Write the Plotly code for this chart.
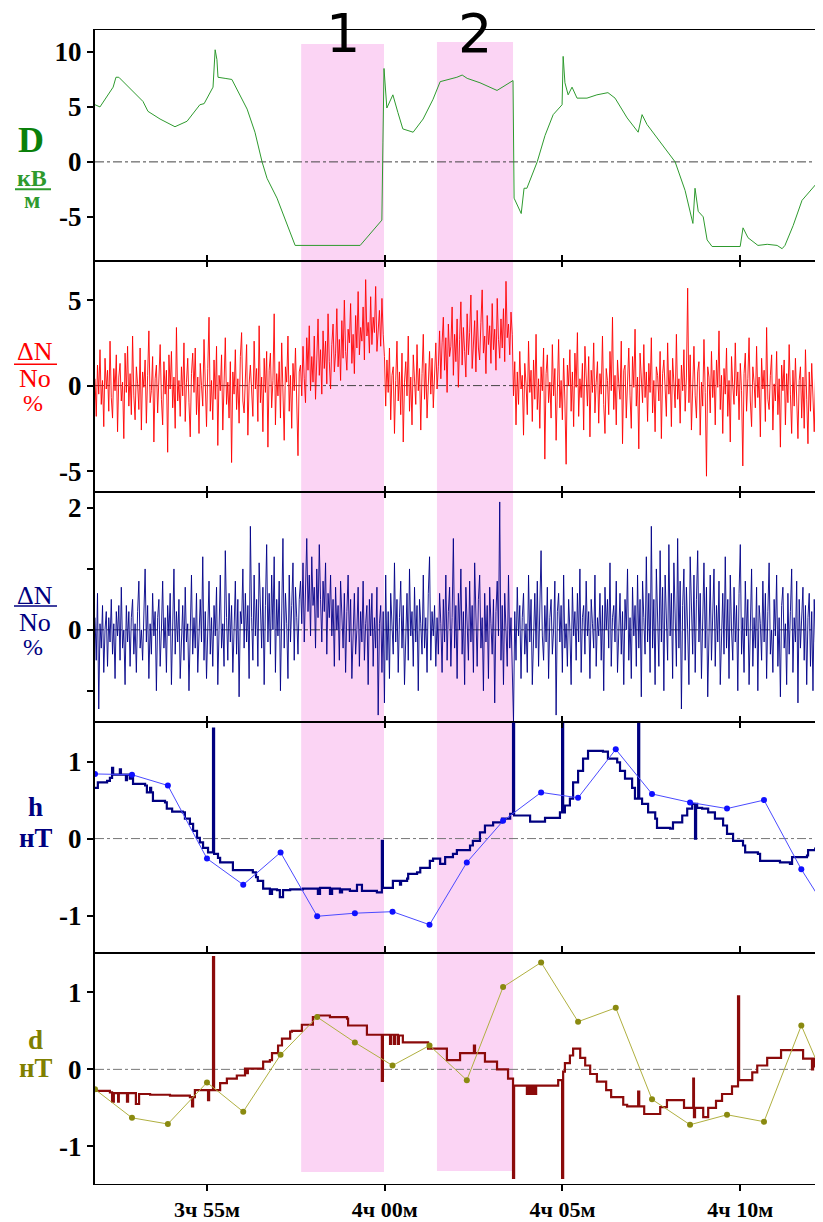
import numpy as np
import plotly.graph_objects as go
from plotly.subplots import make_subplots

# ---------------- DATA (time in minutes after 3h50m) ----------------
T_START, T_END = 1.85, 22.33
x_tickvals = [5, 10, 15, 20]
x_ticktext = ["3ч 55м", "4ч 00м", "4ч 05м", "4ч 10м"]

# D, kV/m
t_D = [1.85, 1.99, 2.36, 2.44, 2.52, 3.20, 3.34, 3.68, 4.10, 4.44,
       4.80, 4.92, 5.17, 5.23, 5.28, 5.31, 5.51, 5.70, 6.13, 6.35,
       6.55, 6.69, 6.97, 7.48, 9.31, 9.92, 9.95, 9.98, 10.06, 10.23,
       10.37, 10.51, 10.80, 11.08, 11.36, 11.56, 12.03, 12.18, 12.32, 12.68,
       13.16, 13.61, 13.64, 13.72, 13.84, 13.92, 14.00, 14.29, 14.51, 14.74,
       14.99, 15.02, 15.07, 15.16, 15.27, 15.41, 15.69, 15.97, 16.28, 16.48,
       16.82, 17.13, 17.24, 17.38, 17.75, 18.17, 18.45, 18.67, 18.73, 18.82,
       18.96, 19.07, 19.21, 20.00, 20.08, 20.22, 20.50, 20.76, 21.04, 21.18,
       21.26, 21.49, 21.74, 22.02, 22.30]
D_vals = [5.2, 5.0, 6.8, 7.7, 7.7, 5.5, 4.6, 3.9, 3.2, 3.7,
          5.2, 5.3, 6.8, 10.2, 9.3, 7.7, 7.6, 7.5, 4.8, 2.7,
          0.0, -1.5, -3.3, -7.6, -7.6, -5.3, 1.8, 8.5, 4.9, 6.1,
          4.5, 3.0, 2.7, 3.9, 5.7, 7.3, 7.7, 7.9, 7.6, 7.2,
          6.5, 7.4, -3.3, -3.8, -4.7, -2.4, -2.4, 0.0, 2.4, 4.3,
          5.2, 9.6, 7.2, 6.1, 6.8, 5.8, 5.8, 6.1, 6.3, 5.8,
          4.0, 2.7, 4.3, 3.4, 1.8, 0.0, -2.6, -5.6, -2.4, -4.5,
          -5.0, -7.1, -7.7, -7.7, -6.0, -6.9, -7.6, -7.5, -7.6, -7.9,
          -7.6, -5.8, -3.5, -2.4, -1.4]

# dN/No (%), red, evenly sampled
dn_red = [
    0.4, -1.8, 1.2, -0.5, 2.1, -1.1, 0.3, -2.4, 1.6, -0.2,
    0.9, -1.5, 2.6, -0.7, -1.9, 1.0, -0.3, 1.8, -2.7, 0.5,
    1.3, -0.9, 0.2, -3.1, 1.9, -0.4, 2.3, -1.2, 0.7, -1.7,
    2.9, -0.6, -2.0, 1.1, 0.1, -1.4, 2.2, -2.6, 0.8, -0.1,
    1.5, -2.2, 0.6, 3.2, -1.0, -0.3, 1.7, -3.3, 0.4, 1.2,
    -1.6, 0.0, 2.4, -0.8, -2.3, 1.4, -0.5, 0.9, -3.9, 1.8,
    -0.2, 2.0, -1.3, 0.5, -2.5, 3.4, -0.9, 0.3, -1.8, 1.1,
    -0.6, 2.5, -2.1, 0.2, 1.6, -1.0, -3.0, 0.7, 1.9, -0.4,
    2.2, -1.7, 0.5, -2.8, 1.3, 0.0, -1.2, 2.7, -0.7, -2.4,
    1.0, 4.0, -1.5, 0.3, -2.0, 1.5, -0.8, 2.3, -3.5, 0.6,
    -0.3, 1.8, -2.6, 0.9, 2.8, -1.1, 0.2, -1.9, 1.4, -4.5,
    0.8, -0.5, 2.1, -1.4, 0.4, -2.2, 1.7, 3.1, -0.9, -1.6,
    0.6, 2.4, -2.9, 0.1, 1.2, -0.7, -1.8, 2.6, -0.2, 1.0,
    -2.1, 3.5, -1.0, 0.5, -2.7, 1.6, -0.4, 2.0, -3.6, 0.9,
    1.9, -1.3, 0.3, 4.2, -2.3, 0.7, -0.6, 1.4, -1.9, 2.5,
    -0.8, -3.2, 1.1, 0.2, 2.9, -1.5, 0.6, -2.5, 1.3, -0.3,
    2.2, -1.0, -4.1, 0.8,
    # interval 1
    1.2, -0.6, 2.3, 0.4, -1.0, 2.8, 0.9, 3.5, -0.3, 1.7,
    0.2, 2.9, -0.8, 1.5, 3.9, 0.6, 2.1, -0.5, 3.2, 1.0,
    2.6, 0.1, 4.2, 1.4, -0.2, 2.4, 3.6, 0.8, 1.9, 4.5,
    1.1, 2.7, 0.3, 3.8, 1.6, 5.0, 2.0, 0.9, 3.3, 2.5,
    4.8, 1.3, 3.0, 0.7, 4.1, 2.2, 5.5, 1.8, 3.4, 2.6,
    4.6, 1.5, 6.2, 2.9, 3.7, 1.9, 5.2, 2.4, 4.0, 3.1,
    5.8, 2.0, 3.5, 4.4, 2.3, 5.1, 3.0, 1.7,
    # between intervals
    -1.2, 1.5, -0.4, 2.2, -2.0, 0.6, 1.1, -2.8, 0.3, 2.6,
    -0.9, 0.8, -1.7, 1.9, -3.3, 0.2, 1.4, -0.6, 2.9, -1.5,
    0.5, -2.3, 1.8, 0.0, -1.1, 2.4, -0.3, 1.0, -2.6, 0.7,
    3.0, -0.8, 1.3, -1.9, 0.4, 2.0, -0.5, 1.6, -1.3, 0.9,
    2.5, -0.2,
    # interval 2
    1.1, 3.2, 0.4, 2.5, 4.0, 0.9, 2.8, -0.4, 3.6, 1.7,
    2.3, 4.6, 0.6, 3.0, 1.4, 3.9, -0.1, 2.7, 4.9, 1.2,
    3.4, 2.0, 0.5, 4.2, 1.8, 3.1, 5.3, 1.0, 2.6, 3.8,
    0.8, 4.4, 2.2, 1.5, 3.7, 5.6, 1.9, 2.9, 0.7, 4.1,
    2.4, 3.5, 1.3, 4.8, 2.1, 3.3, 0.9, 5.1, 2.7, 1.6,
    3.9, 2.2, 4.5, 1.4, 6.1, 2.8, 3.6, 1.8, 4.3, 3.0,
    # after
    -0.6, 1.4, -2.3, 0.8, -1.1, 2.0, -0.2, 0.6, -2.9, 1.3,
    0.1, -1.7, 2.6, -0.4, 0.9, -2.1, 1.5, -0.8, 3.0, -1.4,
    0.4, -2.5, 1.1, -0.3, 2.2, -4.3, 0.7, 1.8, -1.0, 0.2,
    -1.9, 2.4, -0.6, 1.0, -3.2, 0.5, 2.7, -1.3, 0.3, -2.0,
    1.6, -0.9, -4.6, 1.2, 0.0, 2.1, -1.5, 0.8, -2.4, 1.9,
    -0.1, 3.1, -1.8, 0.4, -0.7, 1.3, -2.6, 2.3, 0.6, -1.2,
    1.7, -3.0, 0.9, -0.4, 2.5, -1.6, 0.2, 1.4, -2.2, 0.7,
    -0.5, 2.9, -1.1, -2.8, 1.0, 0.3, -1.7, 2.0, -0.3, 4.0,
    -1.4, 0.6, -2.3, 1.5, 0.1, -0.8, 2.6, -3.4, 0.9, 1.2,
    -1.9, 0.4, 2.2, -0.6, -2.5, 1.7, -0.1, 3.3, -1.2, 0.5,
    -3.7, 1.9, 0.2, -1.0, 2.4, -0.7, 0.8, -2.1, 1.3, -0.4,
    2.8, -1.6, 0.3, -2.7, 1.1, 0.6, -0.9, 2.0, -3.1, 0.7,
    1.5, -0.2, -1.8, 2.5, -0.5, 0.9, -2.4, 1.6, 0.1, -1.3,
    3.0, -0.8, 0.4, -2.2, 1.2, -0.3, 2.1, -1.5, 0.5, 5.7,
    -1.0, 1.8, -2.6, 0.3, 2.3, -0.6, -1.9, 0.8, 1.4, -2.9,
    0.2, -1.2, 2.7, -0.4, -5.3, 1.1, 0.5, -1.6, 2.0, -0.7,
    0.9, -2.3, 1.5, -0.1, 3.2, -1.4, 0.6, -2.8, 1.0, -0.5,
    2.2, -1.8, 0.3, -3.3, 1.7, 0.0, -1.1, 2.5, -0.6, 0.8,
    -2.0, 1.3, -0.3, -4.7, 0.7, 1.9, -1.5, 0.4, 2.8, -0.9,
    -2.4, 1.1, 0.2, -1.3, 2.3, -0.7, 0.5, -3.0, 1.6, -0.2,
    0.9, -2.1, 3.4, -0.8, -1.4, 0.6, 1.8, -2.6, 0.1, -0.9,
    2.0, -1.7, 0.4, -3.6, 1.2, -0.3, 1.5, -2.3, 0.7, -1.0,
    2.4, -0.5, -2.8, 0.9, -1.2, 1.6, -0.4, -3.1, 0.3, 1.1,
    -1.9, 0.5, -2.5, 2.1, -0.8, -3.4, 0.8, -1.5, 1.3, -0.6,
    -2.7, 0.4, -1.1, 1.7, -3.2, 0.2, -0.9, 1.0]

# dN/No (%), navy, evenly sampled
dn_blue = [
    0.2, -0.5, 0.6, -1.3, 0.1, -0.3, 0.4, -0.7, 0.0, 0.3,
    -0.6, 0.2, -0.2, 0.5, -0.4, 0.1, -0.8, 0.3, -0.1, 0.4,
    -0.5, 0.7, -0.3, 0.0, -0.9, 0.4, -0.2, 0.3, -0.6, 0.2,
    0.5, -0.4, 0.1, -0.7, 0.3, 0.8, -0.3, 0.0, -0.5, 0.2,
    1.0, -0.2, 0.4, -0.8, 0.1, -0.4, 0.6, -0.1, 0.3, -1.0,
    0.2, 0.5, -0.6, 0.0, 0.8, -0.3, 0.2, -0.7, 0.4, -0.1,
    0.6, -0.9, 0.1, 1.0, -0.4, 0.3, -0.2, 0.5, -0.8, 0.0,
    0.4, -0.5, 0.7, -0.2, 0.1, -1.0, 0.3, 0.9, -0.4, 0.2,
    -0.3, 0.6, -0.7, 0.0, 0.5, -0.2, 1.2, -0.5, 0.3, -0.8,
    0.1, 0.8, -0.4, 0.2, -0.6, 0.4, -0.1, 0.7, -0.9, 0.3,
    0.9, -0.3, 0.1, -0.6, 1.3, 0.2, -0.5, 0.6, -0.2, 0.4,
    -0.7, 0.0, 0.8, -0.4, 0.5, -1.1, 0.3, 0.1, 1.0, -0.3,
    0.6, -0.2, 0.4, -0.8, 1.7, 0.2, -0.5, 0.9, -0.1, 0.5,
    -0.6, 1.1, 0.3, -0.3, 0.7, -0.9, 0.4, 1.4, -0.2, 0.6,
    -0.4, 0.9, 0.0, 1.2, -0.7, 0.5, -0.1, 0.8, -1.0, 0.3,
    1.5, -0.3, 0.6, 0.1, -0.8, 0.9, -0.2, 0.4, 1.1, -0.5,
    0.7, 0.2, -0.4, 0.5,
    # interval 1
    0.8, 0.1, 1.1, -0.2, 0.6, 1.5, 0.3, 0.9, -0.1, 1.2,
    0.4, 0.7, -0.3, 1.0, 0.2, 1.4, 0.5, -0.2, 0.8, 0.3,
    1.1, -0.4, 0.6, 0.2, 0.9, -0.1, 0.5, -0.6, 0.7, 0.0,
    0.4, -0.5, 0.8, 0.1, -0.3, 0.6, -0.7, 0.3, 0.9, -0.2,
    0.5, -0.8, 0.2, 0.6, -0.4, 0.0, 0.7, -0.6, 0.3, -0.2,
    0.8, -0.5, 0.1, 0.4, -0.9, 0.5, -0.1, 0.6, -0.6, 0.2,
    -0.3, 0.7, -1.4, 0.1, 0.4, -0.7, 0.3, -1.2,
    # between intervals
    0.9, -0.5, 0.3, -0.8, 0.6, 0.0, -0.4, 1.1, -0.2, 0.5,
    -0.7, 0.2, 0.8, -0.3, 0.4, -0.9, 0.1, 0.6, -0.5, 1.0,
    -0.1, 0.3, -0.6, 0.7, -0.2, 0.4, -1.0, 0.5, 0.1, -0.4,
    0.9, -0.3, 0.2, -0.7, 0.6, 1.2, -0.5, 0.3, -0.1, 0.4,
    -0.6, 0.2,
    # interval 2
    -0.4, 0.6, 0.1, -0.7, 0.5, -0.2, 0.9, -0.5, 0.3, 0.7,
    -0.6, 0.2, 1.5, -0.3, 0.4, -0.8, 0.6, 0.0, 1.0, -0.4,
    0.3, -0.9, 0.7, 0.1, -0.5, 0.8, -0.2, 0.4, -0.7, 1.1,
    0.0, -0.6, 0.5, 0.9, -0.3, 0.2, -1.0, 0.6, -0.2, 0.4,
    -0.8, 0.7, 0.1, -0.4, 0.5, -1.2, 0.3, 0.8, -0.1, 2.1,
    -0.5, 0.4, -0.9, 0.6, 0.0, -0.6, 0.9, -0.3, 0.2, -0.7,
    # after
    -1.5, 0.3, -0.5, 0.7, -0.1, 0.4, -0.8, 0.2, 0.6, -0.4,
    0.1, -0.7, 0.9, -0.2, 0.5, -0.9, 0.0, 0.6, -0.3, 0.8,
    -0.6, 0.3, 1.3, -0.1, -0.5, 0.4, -0.2, 0.7, -0.8, 0.2,
    0.5, -0.4, 0.0, 0.8, -1.4, 0.3, 0.6, -0.2, 0.4, -0.7,
    0.9, -0.3, 0.1, -0.6, 0.5, 0.0, -0.9, 0.7, -0.1, 0.3,
    -0.5, 0.6, -0.2, 1.0, -0.7, 0.2, 0.4, -0.4, 0.8, -0.1,
    0.3, -0.8, 0.5, 0.1, -0.3, 0.9, -0.6, 0.2, -0.1, 0.6,
    -0.5, 0.4, -1.0, 0.7, 0.0, 0.5, -0.3, 1.1, -0.6, 0.2,
    0.4, -0.2, 0.8, -0.7, 0.1, 0.6, -0.4, 0.3, -0.9, 0.5,
    0.0, 1.0, -0.5, 0.2, -0.8, 0.7, -0.1, 0.4, -0.6, 0.9,
    -0.3, 0.5, -1.1, 0.8, 0.2, -0.4, 1.2, -0.2, 0.6, -0.7,
    1.7, -0.3, 0.5, -0.9, 1.0, 0.1, -0.6, 1.3, -0.2, 0.7,
    -1.0, 0.9, 0.3, -0.5, 1.4, -0.1, 0.6, -0.8, 1.1, 0.2,
    -0.6, 1.5, -0.3, 0.8, -1.3, 0.4, 1.0, -0.5, 0.7, 0.0,
    -0.9, 1.2, 0.3, -0.4, 0.9, -0.7, 0.5, 1.3, -0.2, 0.6,
    -0.8, 0.4, 1.1, -0.3, 0.7, -1.1, 0.2, 0.9, -0.5, 0.3,
    1.0, -0.6, 0.4, -0.2, 0.8, -0.9, 0.1, 0.6, -0.4, 1.2,
    -0.3, 0.5, -0.8, 0.9, 0.0, -0.5, 0.7, -0.2, 0.4, -1.0,
    0.6, 1.4, -0.4, 0.2, -0.7, 0.8, -0.1, 0.5, -0.9, 0.3,
    1.0, -0.6, 0.2, -0.3, 0.7, -1.0, 0.4, 0.1, -0.5, 0.8,
    -0.2, 0.6, -0.8, 0.3, 1.1, -0.4, 0.0, -0.7, 0.5, -0.1,
    0.9, -0.6, 0.2, -1.1, 0.4, 0.7, -0.3, 0.1, -0.9, 0.6,
    -0.4, 0.3, 1.0, -0.7, 0.2, -0.2, 0.8, -1.2, 0.5, -0.3,
    0.1, 0.7, -0.5, 0.4, -0.9, 0.2, 0.6, -0.6, 0.3, -1.0,
    0.5, -0.2, 0.8, -0.7, 0.1, -0.4, 0.6, -0.5]

# h, nT (step record)
t_h = [1.85, 1.93, 2.19, 2.27, 2.33, 2.36, 2.55, 2.58, 2.72, 2.75,
       2.83, 2.86, 2.92, 3.26, 3.31, 3.40, 3.43, 3.48, 3.82, 3.87,
       4.02, 4.32, 4.38, 4.52, 4.61, 4.72, 4.80, 4.89, 5.03, 5.17,
       5.20, 5.31, 5.37, 5.73, 6.29, 6.38, 6.43, 6.58, 6.77, 6.83,
       6.97, 7.05, 7.14, 7.34, 7.70, 8.12, 8.18, 8.46, 8.52, 8.74,
       8.80, 9.02, 9.22, 9.36, 9.78, 9.92, 9.95, 10.23, 10.43, 10.46,
       10.63, 10.66, 10.91, 11.00, 11.27, 11.36, 11.56, 11.70, 11.92, 12.03,
       12.40, 12.48, 12.68, 12.82, 13.05, 13.30, 13.53, 13.61, 13.64, 14.03,
       14.09, 14.51, 14.88, 14.93, 14.99, 15.02, 15.07, 15.21, 15.30, 15.44,
       15.58, 15.72, 16.14, 16.28, 16.54, 16.62, 16.76, 16.96, 17.04, 17.13,
       17.16, 17.24, 17.41, 17.61, 17.66, 18.03, 18.11, 18.37, 18.51, 18.65,
       18.73, 18.76, 18.79, 18.93, 19.10, 19.29, 19.52, 19.63, 19.80, 20.08,
       20.14, 20.50, 20.56, 21.12, 21.40, 21.46, 21.88, 21.91, 22.11, 22.33]
h_vals = [0.66, 0.73, 0.75, 0.79, 0.92, 0.83, 0.90, 0.83, 0.76, 0.83,
          0.78, 0.83, 0.71, 0.69, 0.60, 0.66, 0.60, 0.49, 0.47, 0.39,
          0.35, 0.34, 0.26, 0.19, 0.10, 0.01, -0.05, -0.12, -0.18, 1.43,
          -0.20, -0.25, -0.31, -0.41, -0.44, -0.50, -0.55, -0.65, -0.72, -0.66,
          -0.67, -0.76, -0.67, -0.66, -0.65, -0.72, -0.64, -0.72, -0.65, -0.70,
          -0.66, -0.68, -0.60, -0.68, -0.70, -0.03, -0.64, -0.55, -0.60, -0.55,
          -0.52, -0.46, -0.44, -0.38, -0.29, -0.26, -0.33, -0.24, -0.20, -0.15,
          -0.09, -0.03, 0.08, 0.17, 0.21, 0.26, 0.32, 1.50, 0.30, 0.30,
          0.22, 0.27, 0.27, 0.34, 1.49, 0.34, 0.43, 0.52, 0.73, 0.88,
          1.04, 1.14, 1.13, 1.04, 0.99, 0.88, 0.78, 0.66, 0.52, 1.49,
          0.52, 0.45, 0.34, 0.26, 0.14, 0.13, 0.21, 0.30, 0.39, 0.45,
          0.00, 0.45, 0.40, 0.39, 0.34, 0.26, 0.17, 0.06, -0.03, -0.09,
          -0.18, -0.20, -0.29, -0.31, -0.33, -0.24, -0.22, -0.15, -0.13, -0.17]

# d, nT (step record)
t_d = [1.85, 2.27, 2.33, 2.38, 2.50, 2.52, 2.75, 2.78, 3.00, 3.09,
       3.40, 3.96, 4.52, 4.58, 4.61, 4.66, 5.00, 5.03, 5.06, 5.17,
       5.20, 5.37, 5.56, 5.84, 6.07, 6.13, 6.15, 6.58, 6.77, 6.83,
       7.00, 7.11, 7.34, 7.39, 7.67, 7.98, 8.10, 8.46, 8.94, 8.97,
       9.50, 9.92, 9.95, 10.15, 10.18, 10.26, 10.29, 10.37, 10.40, 10.51,
       11.22, 11.75, 12.12, 12.51, 12.54, 12.82, 13.16, 13.47, 13.61, 13.64,
       14.00, 14.06, 14.12, 14.17, 14.23, 14.26, 14.88, 14.99, 15.02, 15.07,
       15.21, 15.30, 15.50, 15.64, 15.78, 15.97, 16.23, 16.37, 16.71, 16.82,
       17.13, 17.16, 17.30, 17.75, 17.94, 18.42, 18.68, 18.70, 18.73, 18.96,
       19.10, 19.32, 19.49, 19.77, 19.94, 19.97, 20.34, 20.48, 20.76, 21.15,
       21.77, 22.02, 22.05, 22.11, 22.33]
d_vals = [-0.28, -0.30, -0.42, -0.31, -0.42, -0.31, -0.42, -0.31, -0.45, -0.32,
          -0.33, -0.34, -0.36, -0.48, -0.36, -0.27, -0.27, -0.40, -0.27, 1.46,
          -0.27, -0.18, -0.12, -0.08, 0.01, -0.05, 0.01, 0.10, 0.12, 0.21,
          0.31, 0.40, 0.49, 0.50, 0.58, 0.68, 0.70, 0.68, 0.66, 0.57,
          0.45, -0.15, 0.45, 0.33, 0.45, 0.33, 0.45, 0.33, 0.44, 0.35,
          0.27, 0.12, 0.21, 0.31, 0.21, 0.10, 0.00, -0.12, -1.41, -0.21,
          -0.32, -0.21, -0.32, -0.21, -0.32, -0.21, -0.14, -1.41, -0.03, 0.08,
          0.18, 0.27, 0.15, 0.05, -0.06, -0.16, -0.27, -0.36, -0.46, -0.48,
          -0.29, -0.48, -0.58, -0.49, -0.40, -0.50, -0.12, -0.62, -0.50, -0.62,
          -0.50, -0.41, -0.32, -0.22, 0.95, -0.14, -0.04, 0.05, 0.15, 0.25,
          0.14, 0.00, 0.14, 0.04, 0.04]

# station samples (dots) for h and d
t_mag = [1.85, 2.89, 3.90, 5.00, 6.02, 7.07, 8.10, 9.16, 10.22, 11.26,
         12.31, 13.33, 14.40, 15.44, 16.50, 17.52, 18.59, 19.63, 20.67, 21.72, 22.76]
h_pts = [0.84, 0.83, 0.69, -0.26, -0.60, -0.18, -1.01, -0.97, -0.95, -1.12,
         -0.31, 0.23, 0.60, 0.53, 1.16, 0.58, 0.47, 0.39, 0.50, -0.40, -1.16]
d_pts = [-0.26, -0.63, -0.71, -0.17, -0.55, 0.19, 0.68, 0.35, 0.05, 0.31,
         -0.14, 1.07, 1.39, 0.62, 0.80, -0.39, -0.72, -0.59, -0.68, 0.57, -0.55]

# highlighted intervals
bands = [(7.65, 9.98, "1"), (11.47, 13.61, "2")]

# ---------------- FIGURE ----------------
PAGE_OFF = 8            # default body margin of the html page
W, H = 823 - PAGE_OFF, 1222 - PAGE_OFF
ML, MR, MT, MB = 95 - PAGE_OFF, 0, 30 - PAGE_OFF, 32
PX0, PY1, PW, PH = 95, 1190, 728, 1160   # plot area in page pixels


def px(x):
    return (x - PX0) / PW


def py(y):
    return (PY1 - y) / PH


fig = make_subplots(rows=5, cols=1, shared_xaxes=True, vertical_spacing=0)

t_red = np.linspace(T_START, T_END, len(dn_red))
t_blue = np.linspace(T_START, T_END, len(dn_blue))

fig.add_trace(go.Scatter(x=t_D, y=D_vals, mode="lines",
                         line=dict(color="#2e9a2e", width=1)), row=1, col=1)
fig.add_trace(go.Scatter(x=t_red, y=dn_red, mode="lines",
                         line=dict(color="#ff0000", width=0.9)), row=2, col=1)
fig.add_trace(go.Scatter(x=t_blue, y=dn_blue, mode="lines",
                         line=dict(color="#000088", width=0.9)), row=3, col=1)
fig.add_trace(go.Scatter(x=t_h, y=h_vals, mode="lines", line_shape="hv",
                         line=dict(color="#000080", width=2.2)), row=4, col=1)
fig.add_trace(go.Scatter(x=t_mag, y=h_pts, mode="lines+markers",
                         line=dict(color="#4a4aff", width=1),
                         marker=dict(color="#1010ff", size=6)), row=4, col=1)
fig.add_trace(go.Scatter(x=t_d, y=d_vals, mode="lines", line_shape="hv",
                         line=dict(color="#8b0a0a", width=2.2)), row=5, col=1)
fig.add_trace(go.Scatter(x=t_mag, y=d_pts, mode="lines+markers",
                         line=dict(color="#b0b040", width=1),
                         marker=dict(color="#8a8a10", size=6)), row=5, col=1)

domains = [[0.8, 1.0], [0.6, 0.8], [0.4, 0.6], [0.2, 0.4], [0.0, 0.2]]
yranges = [[-9.0, 12.0], [-6.2, 7.3], [-1.52, 2.27], [-1.49, 1.51], [-1.49, 1.51]]
ytickvals = [[-5, 0, 5, 10], [-5, 0, 5], [-1, 0, 1, 2], [-1, 0, 1], [-1, 0, 1]]
yticktext = [["-5", "0", "5", "10"], ["-5", "0", "5"], ["", "0", "", "2"],
             ["-1", "0", "1"], ["-1", "0", "1"]]

tickfont = dict(family="Liberation Serif", size=27, color="black", weight="bold")
for i in range(5):
    n = "" if i == 0 else str(i + 1)
    fig.layout["yaxis" + n].update(
        domain=domains[i], range=yranges[i], tickvals=ytickvals[i], ticktext=yticktext[i],
        showline=True, linecolor="black", linewidth=2, mirror=False,
        ticks="outside", ticklen=6, tickwidth=1.5, tickcolor="black",
        showgrid=False, zeroline=False, tickfont=tickfont)
    fig.layout["xaxis" + n].update(
        range=[T_START, T_END], tickvals=x_tickvals, ticktext=x_ticktext,
        showline=True, linecolor="black", linewidth=1.1,
        mirror=True if i == 0 else "allticks",
        ticks="outside" if i == 4 else "inside", ticklen=6, tickwidth=1.5, tickcolor="black",
        showgrid=False, zeroline=False, showticklabels=(i == 4),
        tickfont=dict(family="Liberation Serif", size=22, color="black", weight="bold"))

shapes = []
ann = []
# pink bands
band_tops = [44, 42]
band_bots = [1178, 1177]
for k, (a, b, lab) in enumerate(bands):
    shapes.append(dict(type="rect", xref="x", yref="paper", x0=a, x1=b,
                       y0=py(band_bots[k]), y1=py(band_tops[k]),
                       fillcolor="#fbd4f4", line=dict(width=0), layer="below"))
    ann.append(dict(text=lab, xref="x", yref="paper", x=(a + b) / 2, y=py(33),
                    showarrow=False, xanchor="center", yanchor="middle", height=46,
                    font=dict(family="DejaVu Sans", size=54, color="black")))

# zero dash-dot lines
for i in range(5):
    n = "" if i == 0 else str(i + 1)
    shapes.append(dict(type="line", xref="paper", yref="y" + n, x0=0, x1=1, y0=0, y1=0,
                       line=dict(color="#444444" if i < 3 else "#777777", width=1, dash="dashdot"),
                       layer="below"))

serif = "Liberation Serif"


def label(text, x, y, size, color, bold=True, h=None):
    a = dict(text=text, xref="paper", yref="paper", x=px(x), y=py(y),
             showarrow=False, xanchor="center", yanchor="middle",
             font=dict(family=serif, size=size, color=color,
                       weight="bold" if bold else "normal"))
    if h:
        a["height"] = h
    ann.append(a)


def bar(x0, x1, y, color, w=2):
    shapes.append(dict(type="line", xref="paper", yref="paper", x0=px(x0), x1=px(x1),
                       y0=py(y), y1=py(y), line=dict(color=color, width=w)))


# panel 1 title
label("D", 31, 141, 36, "#0a800a")
label("кВ", 32, 179, 24, "#2e9a2e", h=18)
bar(15, 51, 190, "#2e9a2e", 2)
label("м", 32, 201, 24, "#2e9a2e", h=18)
# panel 2 title
label("ΔN", 35, 353, 26, "#ff0000", bold=False, h=20)
bar(14, 57, 366, "#ff0000", 1.5)
label("No", 35, 380, 26, "#ff0000", bold=False, h=20)
label("%", 33, 405, 24, "#ff0000", bold=False, h=20)
# panel 3 title
label("ΔN", 35, 598, 26, "#000080", bold=False, h=20)
bar(14, 57, 609, "#000080", 1.5)
label("No", 35, 625, 26, "#000080", bold=False, h=20)
label("%", 33, 650, 24, "#000080", bold=False, h=20)
# panel 4 title
label("h", 35, 811, 27, "#000080", h=24)
label("нТ", 36, 842, 27, "#000080", h=24)
# panel 5 title
label("d", 35, 1045, 27, "#808000", h=24)
label("нТ", 36, 1073, 27, "#808000", h=24)

fig.update_layout(
    width=W, height=H, margin=dict(l=ML, r=MR, t=MT, b=MB),
    paper_bgcolor="white", plot_bgcolor="rgba(0,0,0,0)",
    showlegend=False, shapes=shapes, annotations=ann,
)

fig.write_html("out.html")
